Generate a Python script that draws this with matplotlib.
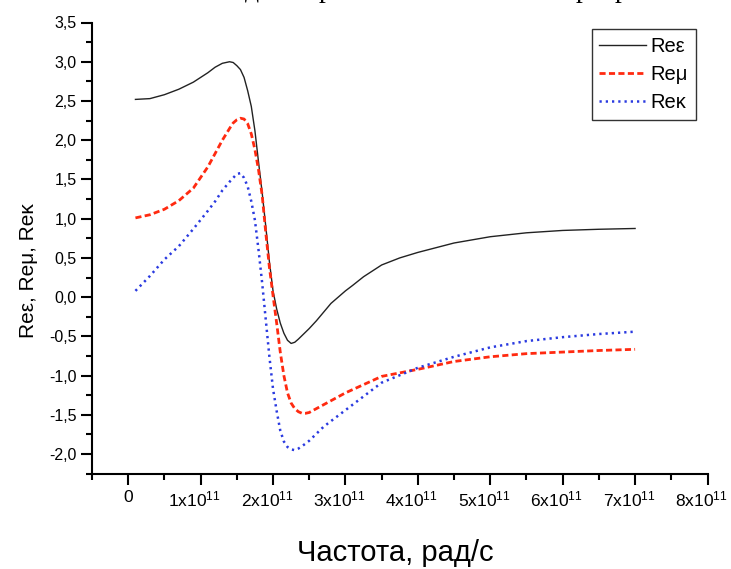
import matplotlib
matplotlib.use("Agg")
import matplotlib.pyplot as plt
import matplotlib.transforms as mtransforms
import numpy as np
from matplotlib.ticker import FixedLocator

plt.rcParams['font.family'] = ['Liberation Sans', 'DejaVu Sans']
plt.rcParams['mathtext.fontset'] = 'custom'
plt.rcParams['mathtext.rm'] = 'Liberation Sans'
plt.rcParams['mathtext.it'] = 'Liberation Sans'

# ---- data (frequency in units of 1e11 rad/s) ----
FREQ_UNIT = 1e11
freq_eps = [0.1, 0.3, 0.5, 0.7, 0.9, 1.1, 1.2, 1.3, 1.4, 1.45, 1.5, 1.55, 1.6, 1.65, 1.7, 1.75,
            1.8, 1.85, 1.9, 1.95, 2.0, 2.05, 2.1, 2.15, 2.2, 2.25, 2.3, 2.35, 2.4, 2.5, 2.6,
            2.7, 2.8, 2.9, 3.0, 3.1, 3.25, 3.5, 3.75, 4.0, 4.5, 5.0, 5.5, 6.0, 6.5, 7.0]
re_eps = [2.52, 2.53, 2.58, 2.65, 2.74, 2.86, 2.93, 2.98, 3.00, 2.99, 2.95, 2.90, 2.80, 2.63, 2.43, 2.12,
          1.72, 1.33, 0.90, 0.45, 0.08, -0.15, -0.33, -0.46, -0.55, -0.59, -0.575, -0.535, -0.49, -0.40, -0.30,
          -0.19, -0.08, 0.00, 0.08, 0.15, 0.26, 0.41, 0.50, 0.57, 0.69, 0.77, 0.82, 0.85, 0.865, 0.875]

freq_mu = [0.1, 0.3, 0.5, 0.7, 0.9, 1.1, 1.2, 1.3, 1.4, 1.45, 1.5, 1.55, 1.6, 1.65, 1.7, 1.75, 1.8,
           1.85, 1.9, 1.95, 2.0, 2.05, 2.1, 2.15, 2.2, 2.25, 2.3, 2.35, 2.4, 2.45, 2.5, 2.6, 2.7,
           3.0, 3.5, 4.0, 4.5, 5.0, 5.5, 6.0, 6.5, 7.0]
re_mu = [1.01, 1.05, 1.12, 1.23, 1.39, 1.66, 1.83, 2.00, 2.15, 2.22, 2.26, 2.28, 2.27, 2.21, 2.08, 1.88, 1.62,
         1.30, 0.82, 0.38, 0.02, -0.33, -0.70, -1.00, -1.22, -1.35, -1.42, -1.46, -1.48, -1.48, -1.47, -1.42, -1.37,
         -1.22, -1.01, -0.92, -0.82, -0.76, -0.72, -0.70, -0.68, -0.665]

freq_kappa = [0.1, 0.3, 0.5, 0.7, 0.9, 1.1, 1.2, 1.3, 1.4, 1.5, 1.55, 1.6, 1.65, 1.7, 1.75,
              1.8, 1.85, 1.9, 1.95, 2.0, 2.05, 2.1, 2.15, 2.2, 2.25, 2.3, 2.35, 2.4, 2.5, 2.7,
              3.0, 3.5, 4.0, 4.5, 5.0, 5.5, 6.0, 6.5, 7.0]
re_kappa = [0.08, 0.27, 0.48, 0.65, 0.87, 1.10, 1.22, 1.36, 1.47, 1.57, 1.58, 1.52, 1.41, 1.22, 0.98,
            0.60, 0.18, -0.29, -0.76, -1.17, -1.45, -1.70, -1.84, -1.91, -1.94, -1.95, -1.93, -1.90, -1.83, -1.65,
            -1.44, -1.09, -0.90, -0.76, -0.64, -0.56, -0.51, -0.47, -0.44]

series_labels = ['Re\u03b5', 'Re\u03bc', 'Re\u03ba']
xtick_values = [0, 1, 2, 3, 4, 5, 6, 7, 8]
xtick_labels = ['0'] + [f'{k}x10$^{{11}}$' for k in range(1, 9)]
ytick_values = [-2.0, -1.5, -1.0, -0.5, 0.0, 0.5, 1.0, 1.5, 2.0, 2.5, 3.0, 3.5]
ytick_labels = ['-2,0', '-1,5', '-1,0', '-0,5', '0,0', '0,5', '1,0', '1,5', '2,0', '2,5', '3,0', '3,5']
xlabel = 'Частота, рад/с'
ylabel = 'Re\u03b5, Re\u03bc, Re\u03ba'
header_fragment = [('д', 245), ('р', 319), ('р', 576), ('р', 615)]

W, H = 731, 569
fig = plt.figure(figsize=(W / 100, H / 100), dpi=100)
L, R, T, B = 92, 707.5, 22.5, 473.7
ax = fig.add_axes([L / W, 1 - B / H, (R - L) / W, (B - T) / H])

ax.plot(np.array(freq_eps) * FREQ_UNIT, re_eps, color='#222222', lw=1.0,
        label=series_labels[0])
ax.plot(np.array(freq_mu) * FREQ_UNIT, re_mu, color='#ff2a10', lw=2.0,
        linestyle=(0, (2.2, 1.2)), label=series_labels[1])
ax.plot(np.array(freq_kappa) * FREQ_UNIT, re_kappa, color='#2a3ae0', lw=1.8,
        linestyle=(0, (0.9, 1.6)), label=series_labels[2])

ax.set_xlim(-0.5 * FREQ_UNIT, 8 * FREQ_UNIT)
ax.set_ylim(-2.25, 3.5)

for s in ['top', 'right']:
    ax.spines[s].set_visible(False)
for s in ['left', 'bottom']:
    ax.spines[s].set_linewidth(1.5)

ax.set_xticks(np.array(xtick_values) * FREQ_UNIT)
ax.set_xticklabels(xtick_labels)
ax.xaxis.set_minor_locator(FixedLocator([(v - 0.5) * FREQ_UNIT for v in xtick_values]))
ax.set_yticks(ytick_values)
ax.set_yticklabels(ytick_labels)
ax.yaxis.set_minor_locator(FixedLocator([v - 0.25 for v in ytick_values]))

ax.tick_params(which='major', direction='out', length=8, width=1.5, pad=4)
ax.tick_params(which='minor', direction='out', length=4.5, width=1.5)
ax.tick_params(axis='x', which='major', labelsize=12.5, pad=3.5)
ax.tick_params(axis='y', which='major', labelsize=11.5, pad=3)

# superscripted labels sit slightly left of their tick, as in the reference
shift = mtransforms.ScaledTranslation(-6 / 100, 0, fig.dpi_scale_trans)
for lab in ax.get_xticklabels()[1:]:
    lab.set_transform(lab.get_transform() + shift)

ax.set_xlabel(xlabel, fontsize=21)
ax.xaxis.set_label_coords((395 - L) / (R - L), (B - 539) / (B - T))
ax.set_ylabel(ylabel, fontsize=15)
ax.yaxis.set_label_coords((38 - L) / (R - L), (B - 271) / (B - T))

leg = fig.legend(loc='upper left', bbox_to_anchor=(591.7 / W, 1 - 29.3 / H),
                 borderaxespad=0, fontsize=14.5, frameon=True, fancybox=False,
                 edgecolor='black', handlelength=2.3, handletextpad=0.25,
                 labelspacing=0.45, borderpad=0.38)
leg.get_frame().set_linewidth(1.0)

# fragment of the document line above the figure (cut off at the top edge)
for ch, xp in header_fragment:
    fig.text(xp / W, 1 + 3 / H, ch, fontsize=20, family='Liberation Serif',
             ha='left', va='baseline')

fig.savefig('out.png', dpi=100)
